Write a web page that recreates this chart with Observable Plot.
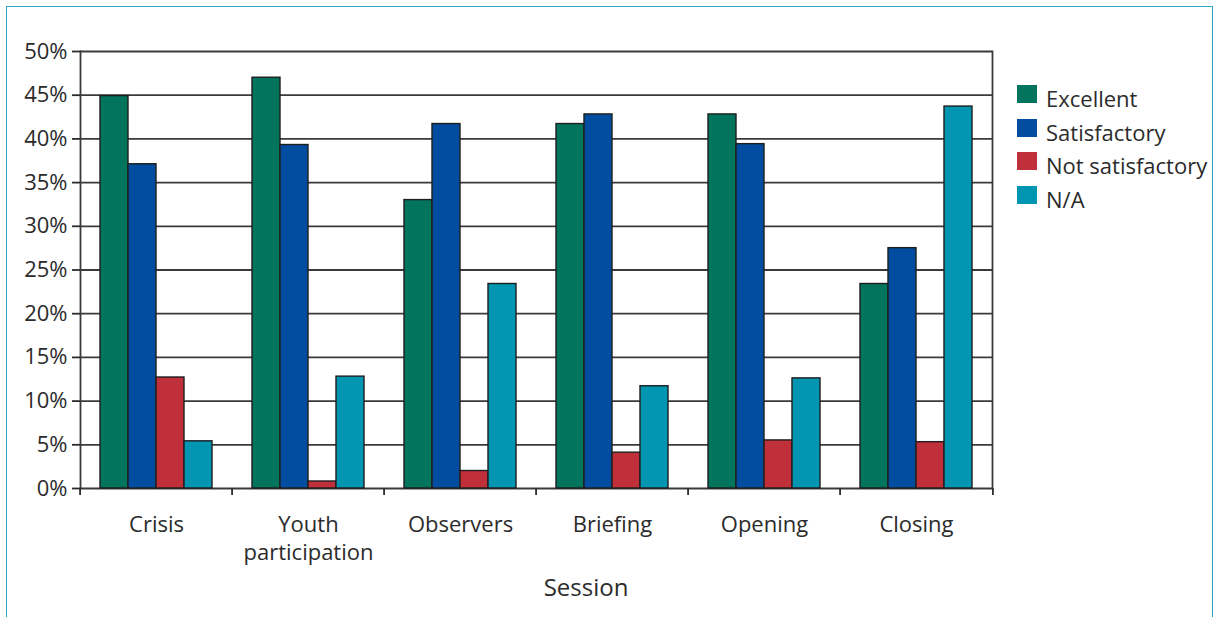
<!DOCTYPE html>
<html>
<head>
<meta charset="utf-8">
<script src="https://cdn.jsdelivr.net/npm/d3@7"></script>
<script src="https://cdn.jsdelivr.net/npm/@observablehq/plot@0.6"></script>
<style>
  html, body { margin: 0; padding: 0; background: #fff; }
  #wrap { position: relative; width: 1215px; height: 617px; overflow: hidden; font-family: "Open Sans", sans-serif; color: #2b2b2b; }
  #border { position: absolute; left: 6px; top: 6px; width: 1205px; height: 700px; border-left: 1.6px solid #2ea7c7; border-top: 1.6px solid #2ea7c7; border-right: 1.6px solid #2ea7c7; }
  #chart { position: absolute; left: 0; top: 0; }
  #legend { position: absolute; left: 1017px; top: 84px; }
  .item { position: relative; height: 33.5px; }
  .sw { position: absolute; left: 0; top: 1px; width: 20px; height: 18px; }
  .lab { position: absolute; left: 29px; top: -2px; font-size: 22px; line-height: 33px; white-space: nowrap; }
  #xtitle { position: absolute; left: 486px; top: 575px; width: 200px; text-align: center; font-size: 24px; line-height: 24px; }
</style>
</head>
<body>
<div id="wrap">
  <div id="border"></div>
  <div id="chart"></div>
  <div id="legend"></div>
  <div id="xtitle">Session</div>
</div>
<script>
const sessions = ["Crisis", "Youth participation", "Observers", "Briefing", "Opening", "Closing"];
const series = ["Excellent", "Satisfactory", "Not satisfactory", "N/A"];
const excellent       = [44.9, 47.0, 33.0, 41.7, 42.8, 23.4];
const satisfactory    = [37.1, 39.3, 41.7, 42.8, 39.4, 27.5];
const notSatisfactory = [12.7, 0.8, 2.0, 4.1, 5.5, 5.3];
const na              = [5.4, 12.8, 23.4, 11.7, 12.6, 43.7];
const yTicks = [0, 5, 10, 15, 20, 25, 30, 35, 40, 45, 50];
const colors = ["#00745c", "#034da0", "#c0303b", "#0096b1"];

const valuesBySeries = [excellent, satisfactory, notSatisfactory, na];
const data = [];
sessions.forEach((s, i) => {
  series.forEach((k, j) => data.push({session: s, series: k, value: valuesBySeries[j][i]}));
});

const W = 1000, H = 617, ML = 77, MR = 6, MT = 51, MB = 129;
const half = (W - ML - MR) / sessions.length / 2;

const chart = Plot.plot({
  width: W,
  height: H,
  marginLeft: ML,
  marginRight: MR,
  marginTop: MT,
  marginBottom: MB,
  style: {fontFamily: "Open Sans", color: "#2b2b2b", background: "transparent", overflow: "visible"},
  fx: {domain: sessions, padding: 0, axis: null},
  x: {domain: series, paddingInner: 0, paddingOuter: 0.7, axis: null},
  y: {domain: [0, 50], axis: null},
  color: {domain: series, range: colors},
  marks: [
    Plot.gridY(yTicks, {stroke: "#3a3a3a", strokeOpacity: 1, strokeWidth: 1.8}),
    Plot.barY(data, {fx: "session", x: "series", y: "value", fill: "series", stroke: "#1e1e1e", strokeWidth: 1.4}),
    Plot.frame({anchor: "left", facetAnchor: "left", stroke: "#3a3a3a", strokeWidth: 1.8}),
    Plot.frame({anchor: "right", facetAnchor: "right", stroke: "#3a3a3a", strokeWidth: 1.8}),
    Plot.axisY({ticks: yTicks, tickFormat: d => d + "%", tickSize: 8, tickPadding: 5, fontSize: 22, strokeWidth: 1.8, label: null}),
    Plot.axisFx({anchor: "bottom", tickSize: 0, tickPadding: 23, fontSize: 22, lineHeight: 1.3, tickFormat: d => d.replace(" ", "\n"), label: null}),
    Plot.axisFx({anchor: "bottom", tickSize: 7, strokeWidth: 1.8, tickFormat: () => "", dx: -half, label: null}),
    Plot.axisFx({anchor: "bottom", ticks: [sessions[sessions.length - 1]], tickSize: 7, strokeWidth: 1.8, tickFormat: () => "", dx: half, label: null})
  ]
});
document.getElementById("chart").appendChild(chart);

const legend = document.getElementById("legend");
series.forEach((k, i) => {
  const item = document.createElement("div");
  item.className = "item";
  item.innerHTML = `<div class="sw" style="background:${colors[i]}"></div><div class="lab">${k}</div>`;
  legend.appendChild(item);
});
</script>
</body>
</html>
